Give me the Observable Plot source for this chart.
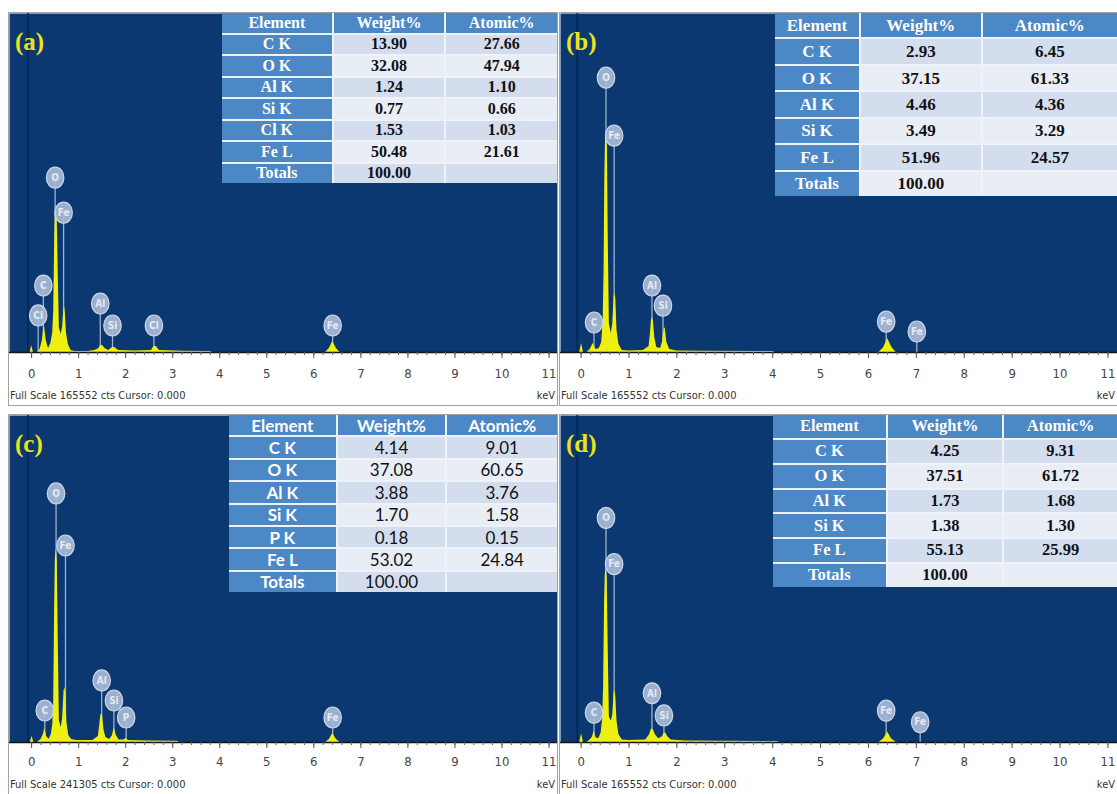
<!DOCTYPE html>
<html>
<head>
<meta charset="utf-8">
<script src="https://cdn.jsdelivr.net/npm/d3@7"></script>
<script src="https://cdn.jsdelivr.net/npm/@observablehq/plot@0.6"></script>
<style>
  body { margin: 0; background: #fff; width: 1117px; height: 794px; position: relative; overflow: hidden; }
  .panel { position: absolute; background: #fff; outline: 1px solid #a2a2a2; overflow: hidden; }
  .panel svg { display: block; }
  .tag { position: absolute; font-family: "Liberation Serif", "Times New Roman", serif; font-weight: bold;
         color: #ebe31c; font-size: 25px; line-height: 1; }
  .foot { position: absolute; font-family: "DejaVu Sans Condensed", "Liberation Sans Narrow", sans-serif;
          font-size: 11px; color: #333; line-height: 1; white-space: nowrap; }
  .eds { position: absolute; top: 0; display: grid; gap: 2px; background: #eef3fa; }
  .eds div { display: flex; align-items: center; justify-content: center; white-space: nowrap; line-height: 1; }
  .eds .hd, .eds .el { background: #4c87c6; color: #fff; font-weight: bold; }
  .eds .v1 { background: #d3ddee; color: #111; }
  .eds .v2 { background: #e8edf6; color: #111; }
</style>
</head>
<body>
<script>
// Energy axis ticks (keV)
const kevTicks = [0, 1, 2, 3, 4, 5, 6, 7, 8, 9, 10, 11];
const minorTicks = d3.range(0, 11.01, 0.2);
const originKeV = [-0.08];

// Spectra: [energy keV, counts]
const spectrumA = [[-0.03,0],[0.00,3400],[0.04,0],[0.12,0],[0.18,1460],[0.23,5860],[0.27,13670],[0.31,5860],
  [0.36,1950],[0.41,4390],[0.45,9760],[0.47,20000],[0.49,52000],[0.505,68000],[0.525,71750],[0.545,66000],
  [0.565,40000],[0.59,12000],[0.63,8800],[0.66,12700],[0.685,21000],[0.70,22450],[0.715,20000],[0.74,9760],
  [0.78,3900],[0.84,980],[0.92,490],[1.20,490],[1.35,980],[1.43,1950],[1.47,3420],[1.51,3420],[1.56,1950],
  [1.64,980],[1.72,2440],[1.77,2440],[1.85,980],[2.20,730],[2.55,980],[2.60,2930],[2.65,2930],[2.72,980],
  [3.20,590],[3.80,490],[3.85,0],[6.25,0],[6.33,1950],[6.40,5370],[6.48,1950],[6.56,0],[11.2,0]];
const spectrumB = [[-0.03,0],[0.01,4400],[0.05,0],[0.12,0],[0.19,1460],[0.25,4400],[0.31,1460],[0.38,1950],
  [0.43,4880],[0.46,14650],[0.48,40000],[0.495,85000],[0.51,104000],[0.53,108400],[0.55,100000],[0.565,60000],
  [0.59,14000],[0.63,9300],[0.66,13700],[0.69,27000],[0.71,28800],[0.725,26000],[0.75,10740],[0.79,3900],
  [0.86,980],[1.00,730],[1.30,980],[1.42,2930],[1.45,9760],[1.47,16000],[1.49,17100],[1.51,15000],[1.54,7000],
  [1.58,2440],[1.66,1950],[1.70,5000],[1.72,9000],[1.74,12200],[1.76,11500],[1.79,5000],[1.85,1460],
  [2.00,730],[2.50,590],[4.00,490],[4.05,0],[6.22,0],[6.32,2440],[6.40,6840],[6.49,2440],[6.58,0],[11.2,0]];
const spectrumC = [[-0.03,0],[0.01,4430],[0.05,0],[0.12,0],[0.20,2210],[0.25,5900],[0.28,10330],[0.32,4430],
  [0.37,2210],[0.42,5900],[0.45,13280],[0.47,30000],[0.49,100000],[0.505,136000],[0.525,143200],[0.545,134000],
  [0.565,80000],[0.59,16000],[0.63,11070],[0.66,17710],[0.69,38000],[0.71,40590],[0.725,36000],[0.75,14760],
  [0.79,5170],[0.85,2210],[0.95,1480],[1.30,1480],[1.42,4430],[1.45,13280],[1.47,20000],[1.49,21400],
  [1.51,19000],[1.54,9000],[1.58,3690],[1.66,2210],[1.72,5170],[1.75,10330],[1.77,9500],[1.80,5170],
  [1.86,1850],[1.96,1850],[2.01,2950],[2.06,1480],[2.50,1110],[3.10,890],[3.15,0],[6.25,0],[6.33,2210],
  [6.40,6640],[6.48,2210],[6.56,0],[11.2,0]];
const spectrumD = [[-0.03,0],[0.01,4400],[0.05,0],[0.12,0],[0.20,1460],[0.24,2930],[0.27,5860],[0.31,2440],
  [0.37,1950],[0.42,4880],[0.45,12200],[0.47,28000],[0.49,70000],[0.505,85000],[0.525,88800],[0.545,83000],
  [0.565,50000],[0.59,13000],[0.63,10740],[0.66,13700],[0.69,25000],[0.71,26350],[0.725,23000],[0.75,10740],
  [0.79,3900],[0.86,1220],[1.00,980],[1.35,1220],[1.43,3900],[1.47,6830],[1.51,6500],[1.55,3900],[1.62,1950],
  [1.70,2930],[1.74,4880],[1.77,4700],[1.81,2930],[1.88,1220],[2.20,730],[3.00,590],[4.10,490],[4.15,0],
  [6.22,0],[6.32,1950],[6.40,5370],[6.48,1950],[6.58,0],[11.2,0]];

// Peak identification markers: element, energy (keV), marker height (counts)
const tagElA = ["Cl", "C", "O", "Fe", "Al", "Si", "Cl", "Fe"];
const tagKeVA = [0.14, 0.25, 0.50, 0.68, 1.46, 1.72, 2.60, 6.40];
const tagCtsA = [18100, 32700, 85400, 68300, 23900, 13200, 13200, 13200];
const tagElB = ["O", "Fe", "C", "Al", "Si", "Fe", "Fe"];
const tagKeVB = [0.52, 0.69, 0.27, 1.48, 1.71, 6.37, 7.01];
const tagCtsB = [134200, 105900, 14650, 32700, 22900, 15100, 10250];
const tagElC = ["O", "Fe", "C", "Al", "Si", "P", "Fe"];
const tagKeVC = [0.52, 0.72, 0.28, 1.49, 1.75, 2.01, 6.40];
const tagCtsC = [183800, 145400, 23600, 45800, 31000, 18450, 18450];
const tagElD = ["O", "Fe", "C", "Al", "Si", "Fe", "Fe"];
const tagKeVD = [0.52, 0.69, 0.27, 1.48, 1.73, 6.37, 7.08];
const tagCtsD = [113700, 90300, 15100, 24900, 13700, 16100, 10250];

// Full-scale counts of each spectrum
const fullScaleA = 165552, fullScaleB = 165552, fullScaleC = 241305, fullScaleD = 165552;

// Quantification tables
const tableHeader = ["Element", "Weight%", "Atomic%"];
const elementsA = ["C K", "O K", "Al K", "Si K", "Cl K", "Fe L", "Totals"];
const weightA = ["13.90", "32.08", "1.24", "0.77", "1.53", "50.48", "100.00"];
const atomicA = ["27.66", "47.94", "1.10", "0.66", "1.03", "21.61", ""];
const elementsB = ["C K", "O K", "Al K", "Si K", "Fe L", "Totals"];
const weightB = ["2.93", "37.15", "4.46", "3.49", "51.96", "100.00"];
const atomicB = ["6.45", "61.33", "4.36", "3.29", "24.57", ""];
const elementsC = ["C K", "O K", "Al K", "Si K", "P K", "Fe L", "Totals"];
const weightC = ["4.14", "37.08", "3.88", "1.70", "0.18", "53.02", "100.00"];
const atomicC = ["9.01", "60.65", "3.76", "1.58", "0.15", "24.84", ""];
const elementsD = ["C K", "O K", "Al K", "Si K", "Fe L", "Totals"];
const weightD = ["4.25", "37.51", "1.73", "1.38", "55.13", "100.00"];
const atomicD = ["9.31", "61.72", "1.68", "1.30", "25.99", ""];

const serif = '"Liberation Serif", "Times New Roman", serif';
const panels = [
  { tag: "(a)", left: 9, top: 13, width: 548, height: 392, plotH: 339, domain: [-0.47, 11.18], pad: 10,
    spectrum: spectrumA, tagEl: tagElA, tagKeV: tagKeVA, tagCts: tagCtsA, fullScale: fullScaleA,
    rows: [elementsA, weightA, atomicA], tbl: { left: 213, width: 335, height: 170, cols: "111fr 112fr 112fr", font: serif, size: 16, weight: "bold" } },
  { tag: "(b)", left: 560, top: 13, width: 557, height: 392, plotH: 339, domain: [-0.43, 11.2], pad: 10,
    spectrum: spectrumB, tagEl: tagElB, tagKeV: tagKeVB, tagCts: tagCtsB, fullScale: fullScaleB,
    rows: [elementsB, weightB, atomicB], tbl: { left: 215, width: 342, height: 183, cols: "85fr 121fr 136fr", font: serif, size: 17, weight: "bold" } },
  { tag: "(c)", left: 9, top: 415, width: 548, height: 379, plotH: 327, domain: [-0.47, 11.18], pad: 8,
    spectrum: spectrumC, tagEl: tagElC, tagKeV: tagKeVC, tagCts: tagCtsC, fullScale: fullScaleC,
    rows: [elementsC, weightC, atomicC], tbl: { left: 220, width: 328, height: 177, cols: "108fr 109fr 111fr", font: 'Lato, "Open Sans", sans-serif', size: 17, weight: "normal" } },
  { tag: "(d)", left: 560, top: 415, width: 557, height: 379, plotH: 327, domain: [-0.43, 11.2], pad: 8,
    spectrum: spectrumD, tagEl: tagElD, tagKeV: tagKeVD, tagCts: tagCtsD, fullScale: fullScaleD,
    rows: [elementsD, weightD, atomicD], tbl: { left: 213, width: 344, height: 172, cols: "114fr 116fr 114fr", font: serif, size: 16.5, weight: "bold" } }
];

const condensed = '"DejaVu Sans Condensed", "Liberation Sans Narrow", sans-serif';

// Slightly tall oval used for the peak identification badges
const oval = {
  draw(ctx, size) {
    const rx = Math.sqrt(size / Math.PI) * 0.92, ry = rx * 1.2, k = 0.5523;
    ctx.moveTo(rx, 0);
    ctx.bezierCurveTo(rx, ry * k, rx * k, ry, 0, ry);
    ctx.bezierCurveTo(-rx * k, ry, -rx, ry * k, -rx, 0);
    ctx.bezierCurveTo(-rx, -ry * k, -rx * k, -ry, 0, -ry);
    ctx.bezierCurveTo(rx * k, -ry, rx, -ry * k, rx, 0);
    ctx.closePath();
  }
};

for (const p of panels) {
  const div = document.createElement("div");
  div.className = "panel";
  Object.assign(div.style, { left: p.left + "px", top: p.top + "px", width: p.width + "px", height: p.height + "px" });
  document.body.appendChild(div);

  const spec = p.spectrum.map(([keV, counts]) => ({ keV, counts }));
  const tags = p.tagEl.map((el, i) => ({ el, keV: p.tagKeV[i], counts: p.tagCts[i] }));

  const chart = Plot.plot({
    width: p.width,
    height: p.height,
    marginTop: 0, marginRight: 0, marginLeft: 0,
    marginBottom: p.height - p.plotH,
    x: { domain: p.domain, label: null },
    y: { domain: [0, p.fullScale], axis: null },
    style: { fontFamily: condensed, fontSize: "13px", color: "#444", background: "transparent", overflow: "hidden" },
    marks: [
      Plot.frame({ fill: "#0b3870", stroke: "none" }),
      Plot.ruleX(originKeV, { stroke: "#052650", strokeWidth: 1.6 }),
      Plot.ruleX(tags, { x: "keV", y1: 0, y2: "counts", stroke: "#9db2d2", strokeWidth: 1.3 }),
      Plot.areaY(spec, { x: "keV", y: "counts", fill: "#f0f010", curve: "linear" }),
      Plot.ruleY([0], { stroke: "#151515", strokeWidth: 1.6 }),
      Plot.dot(tags, { x: "keV", y: "counts", r: 9.5, symbol: oval, fill: "#a8bad6", fillOpacity: 0.92, stroke: "#cbd7e9", strokeWidth: 1.2 }),
      Plot.text(tags, { x: "keV", y: "counts", text: "el", fill: "#e3eaf4", fontSize: 10, fontWeight: "bold" }),
      Plot.axisX(minorTicks, { tickSize: 3, tickFormat: () => "", stroke: "#666", label: null }),
      Plot.axisX(kevTicks, { tickSize: 6, tickPadding: p.pad, tickFormat: "d", stroke: "#555", fill: "#444", label: null })
    ]
  });
  div.appendChild(chart);

  // Panel letter
  const tag = document.createElement("div");
  tag.className = "tag";
  tag.textContent = p.tag;
  Object.assign(tag.style, { left: "6px", top: "16px" });
  div.appendChild(tag);

  // Footer line of the spectrum window
  const foot = document.createElement("div");
  foot.className = "foot";
  foot.textContent = `Full Scale ${p.fullScale} cts Cursor: 0.000`;
  Object.assign(foot.style, { left: "1px", top: (p.height - 15) + "px" });
  div.appendChild(foot);
  const unit = document.createElement("div");
  unit.className = "foot";
  unit.textContent = "keV";
  Object.assign(unit.style, { right: "2px", top: (p.height - 15) + "px" });
  div.appendChild(unit);

  // Quantification table
  const [els, wt, at] = p.rows;
  const t = p.tbl;
  const tbl = document.createElement("div");
  tbl.className = "eds";
  Object.assign(tbl.style, {
    left: t.left + "px", width: t.width + "px", height: t.height + "px",
    gridTemplateColumns: t.cols, gridTemplateRows: `repeat(${els.length + 1}, 1fr)`,
    fontFamily: t.font, fontSize: t.size + "px"
  });
  const cell = (text, cls, weight) => {
    const c = document.createElement("div");
    c.className = cls;
    c.textContent = text;
    if (weight) c.style.fontWeight = weight;
    tbl.appendChild(c);
  };
  tableHeader.forEach(h => cell(h, "hd"));
  els.forEach((e, i) => {
    const cls = i % 2 === 0 ? "v1" : "v2";
    cell(e, "el");
    cell(wt[i], cls, t.weight);
    cell(at[i], cls, t.weight);
  });
  div.appendChild(tbl);
}
</script>
</body>
</html>
